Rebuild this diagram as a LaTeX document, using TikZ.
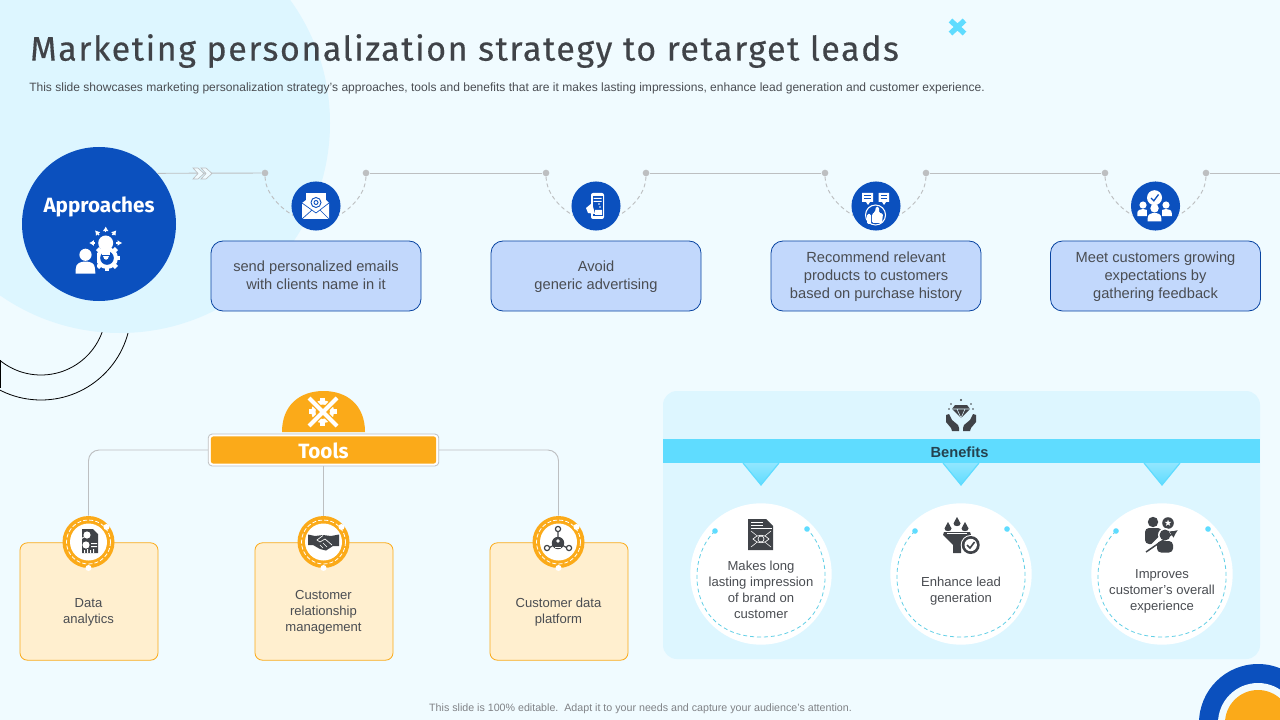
\documentclass[tikz,border=0pt]{standalone}
\usepackage{fontspec}
\usetikzlibrary{arrows.meta}
\setmainfont{Liberation Sans}
\newfontfamily\headFont[LetterSpace=4.6, FakeBold=.35]{Fira Sans}
\newfontfamily\labelFont{Fira Sans}
\definecolor{pageColor}{HTML}{F0FBFF}
\definecolor{paleCyan}{HTML}{DDF6FF}
\definecolor{brightCyan}{HTML}{5FDCFF}
\definecolor{dashCyan}{HTML}{62CFE6}
\definecolor{deepBlue}{HTML}{0B50BE}
\definecolor{boxBlue}{HTML}{C2D8FC}
\definecolor{amber}{HTML}{FBAA19}
\definecolor{paleAmber}{HTML}{FFEFCF}
\definecolor{routeGray}{HTML}{BDBFC1}
\definecolor{inkGray}{HTML}{404348}
\definecolor{bodyGray}{HTML}{4A4D52}
\definecolor{bandText}{HTML}{24424F}
\tikzstyle{slide} = [x=.75pt, y=-.75pt]
\tikzstyle{routeLine} = [color=routeGray, line width=.7pt]
\tikzstyle{dashArc} = [color=routeGray, line width=.7pt, dash pattern=on 3pt off 2.2pt]
\tikzstyle{routeDot} = [circle, fill=routeGray, inner sep=0, minimum size=5pt]
\tikzstyle{iconDisc} = [circle, fill=deepBlue, inner sep=0, minimum size=36.8pt]
\tikzstyle{strutText} = [execute at begin node=\strut, execute at end node=\strut]
\tikzstyle{approachBox} = [draw=deepBlue!85!black, fill=boxBlue, rounded corners=9pt, line width=.6pt, inner sep=0, minimum width=157.5pt, minimum height=52.5pt]
\tikzstyle{approachText} = [strutText, text=bodyGray, align=center, inner sep=0, font=\fontsize{11}{13.4}\selectfont]
\tikzstyle{toolCard} = [draw=amber, fill=paleAmber, rounded corners=5.5pt, line width=.6pt, inner sep=0, minimum width=103.5pt, minimum height=88pt]
\tikzstyle{toolRing} = [circle, fill=amber, inner sep=0, minimum size=39pt]
\tikzstyle{toolLine} = [color=routeGray, line width=.7pt, rounded corners=8pt]
\tikzstyle{smallText} = [strutText, text=bodyGray, align=center, inner sep=0, font=\fontsize{9.8}{12}\selectfont]
\tikzstyle{benefitDisc} = [circle, fill=white, inner sep=0, minimum size=106pt]
\tikzstyle{benefitDash} = [color=dashCyan, line width=.6pt, dash pattern=on 3pt off 2.2pt]
\newcommand{\gearShape}[5]{
  \begin{scope}[shift={(#1,#2)}]
    \foreach \toothAngle in {0,45,...,315} {
      \fill [#4, rotate=\toothAngle] (-#3*.2,-#3*1.22) rectangle (#3*.2,0);
    }
    \fill [#4] (0,0) circle [radius=#3];
    \fill [#5] (0,0) circle [radius=#3*.62];
  \end{scope}
}
\newcommand{\personShape}[4]{
  \begin{scope}[shift={(#1,#2)}, scale=#3]
    \fill [#4] (0,-5.5) circle [radius=5];
    \fill [#4] (-8,10) -- (-8,6) .. controls (-8,1.5) and (-4,0) .. (0,0) .. controls (4,0) and (8,1.5) .. (8,6) -- (8,10) -- cycle;
  \end{scope}
}
\newcommand{\ringMarks}[1]{
  \draw [white, line width=.6pt, dash pattern=on 3pt off 1.6pt] (#1,542) circle [radius=22];
  \fill [white] (#1,542) circle [radius=18.5];
  \fill [white] (#1,568) circle [radius=3];
  \fill [white] (#1+18,527) circle [radius=3];
}
\newcommand{\approachIcon}{
  \gearShape{107}{258}{11}{white}{deepBlue}
  \fill [white] (105.7,243) circle [radius=7.5];
  \fill [white] (102,248) rectangle (109.5,255);
  \fill [white] (103,256) .. controls (104,261) and (108,261) .. (109,256) -- cycle;
  \fill [deepBlue] (93,251) rectangle (97,275);
  \personShape{85.5}{261.5}{1.22}{white}
  \draw [deepBlue, line width=1pt] (94.5,262) -- (96.5,272.5);
  \foreach \arrowAngle in {0,50,90,130,180} {
    \draw [white, line width=1.1pt, -{Latex[length=3.5pt,width=4.5pt]}, shift={(105.7,243)}] ({cos(\arrowAngle)*10.5},{-sin(\arrowAngle)*10.5}) -- ({cos(\arrowAngle)*16.5},{-sin(\arrowAngle)*16.5});
  }
}
\newcommand{\mailIcon}{
  \fill [white] (306,193) rectangle (326,208);
  \fill [white] (302,203) -- (306,200) -- (326,200) -- (329,203) -- (329,219) -- (302,219) -- cycle;
  \draw [deepBlue, line width=.5pt] (302,203) -- (316,213) -- (329,203) (302,219) -- (312,210) (329,219) -- (320,210);
  \draw [deepBlue, line width=.7pt] (316,202.5) circle [radius=5] (316,202.5) circle [radius=2];
}
\newcommand{\phoneIcon}{
  \fill [white, rounded corners=1.5pt] (591,193) rectangle (604,219);
  \fill [deepBlue] (592.5,196) rectangle (602.5,216);
  \fill [white] (593.5,198) rectangle (601.5,199) (593.5,201) rectangle (601.5,202) (595,210) rectangle (602,215);
  \fill [white] (586,208) -- (592,203) -- (595,214) -- (588,213) -- cycle;
  \fill [white] (599,204) circle [radius=.8] (600,207) circle [radius=.8];
}
\newcommand{\thumbIcon}{
  \fill [white] (862,193) rectangle (873,202) (878.5,193) rectangle (889,202);
  \fill [white] (866,202) -- (870,202) -- (868,205) -- cycle (882,202) -- (886,202) -- (884,205) -- cycle;
  \draw [deepBlue, line width=.5pt] (864,195.5) -- (871,195.5) (864,198) -- (871,198) (880.5,195.5) -- (887,195.5) (880.5,198) -- (887,198);
  \draw [white, line width=.8pt] (875.5,215) circle [radius=10];
  \fill [white, rounded corners=1pt] (867,214) rectangle (871,224);
  \fill [white, rounded corners=1pt] (872,214) -- (875,212) -- (876,206.5) -- (879,207) -- (879,213) -- (883,213.5) -- (882,223) -- (872,223) -- cycle;
}
\newcommand{\crowdIcon}{
  \fill [white] (1154.5,197.7) circle [radius=7.5];
  \draw [deepBlue, line width=1pt] (1151,198) -- (1153.8,200.8) -- (1158.5,194.5);
  \personShape{1143}{209}{.72}{white}
  \personShape{1166}{209}{.72}{white}
  \fill [deepBlue] (1147,205) rectangle (1162,223);
  \personShape{1154.5}{213}{.85}{white}
}
\newcommand{\toolsIcon}{
  \gearShape{322.7}{411.7}{11.5}{white}{amber}
  \draw [amber, line width=5pt] (310,399) -- (336,425);
  \draw [amber, line width=5pt] (336,399) -- (310,425);
  \draw [white, line width=3pt] (309,398) -- (337,426);
  \draw [white, line width=3pt] (337,398) -- (309,426);
}
\newcommand{\dataIcon}{
  \fill [inkGray] (82,529) -- (93,529) -- (98,534) -- (98,553) -- (82,553) -- cycle;
  \fill [white] (87,535) circle [radius=3.6];
  \draw [white, line width=.7pt] (81,539) -- (84,537);
  \fill [white] (86,545) circle [radius=3.6];
  \fill [white] (91,543) rectangle (97,544) (91,546) rectangle (97,547);
  \fill [white] (84,550) rectangle (85,553) (87,549) rectangle (88,553) (90,550) rectangle (91,553) (93,549) rectangle (94,553);
}
\newcommand{\shakeIcon}{
  \fill [inkGray] (308,534.5) -- (315,536) -- (323,535) -- (331,536) -- (339,534.5) -- (339,546) -- (333,546) -- (326,550.5) -- (320,549) -- (313,545) -- (308,545) -- cycle;
  \draw [white, line width=.5pt] (323,535.5) -- (317,540) -- (320,542) -- (325,539) -- (332,545) (320,545) -- (323,548) (323,543) -- (327,547);
}
\newcommand{\networkIcon}{
  \draw [inkGray, line width=.9pt] (558,532) -- (558,543) -- (549.5,547.5) (558,543) -- (566.5,547.5);
  \fill [inkGray] (558,543) circle [radius=6.2];
  \fill [white] (558,541) circle [radius=1.8];
  \fill [white] (555,546.5) rectangle (561,548);
  \draw [inkGray, line width=.9pt] (558,529) circle [radius=2.6] (547,548) circle [radius=2.6] (569,548) circle [radius=2.6];
}
\newcommand{\diamondIcon}{
  \fill [inkGray] (955,405) -- (967,405) -- (970,409) -- (961,418) -- (952,409) -- cycle;
  \draw [paleCyan, line width=.4pt] (952,409) -- (970,409) (957,409) -- (961,418) -- (965,409);
  \fill [inkGray] (961,400) circle [radius=1.2] (951,404) circle [radius=.9] (971,404) circle [radius=.9] (949,409) circle [radius=.9] (973,409) circle [radius=.9];
  \fill [inkGray] (946,415) -- (949,414) -- (952,420) -- (958,425) -- (959,428) -- (959,431) -- (952,431) -- (951,428) -- (946,422) -- cycle;
  \fill [inkGray] (976,415) -- (973,414) -- (970,420) -- (964,425) -- (963,428) -- (963,431) -- (970,431) -- (971,428) -- (976,422) -- cycle;
}
\newcommand{\eyeDocIcon}{
  \fill [inkGray] (748,519) -- (766,519) -- (773,526) -- (773,550) -- (748,550) -- cycle;
  \draw [white, line width=.6pt] (751,522) -- (763,522) (751,525) -- (763,525) (751,528) -- (772,528);
  \draw [white, line width=.4pt] (751,531) -- (771,547) (771,531) -- (751,547);
  \fill [inkGray] (753,539) .. controls (757,534) and (765,534) .. (769,539) .. controls (765,544) and (757,544) .. (753,539) -- cycle;
  \draw [white, line width=.5pt] (753,539) .. controls (757,534) and (765,534) .. (769,539) .. controls (765,544) and (757,544) .. (753,539) -- cycle;
  \draw [white, line width=.5pt] (761,539) circle [radius=3];
}
\newcommand{\funnelIcon}{
  \fill [inkGray] (944,532) -- (970,532) -- (971,535) -- (961,545) -- (961,553) -- (953,553) -- (953,545) -- (943,535) -- cycle;
  \fill [white] (947,532.5) rectangle (967,533.2);
  \foreach \dropX/\dropY in {957/522, 948/527, 965/527} {
    \fill [inkGray] (\dropX,\dropY-5) .. controls (\dropX+1,\dropY-2) and (\dropX+3.5,\dropY) .. (\dropX+3.5,\dropY+1.5) .. controls (\dropX+3.5,\dropY+5) and (\dropX-3.5,\dropY+5) .. (\dropX-3.5,\dropY+1.5) .. controls (\dropX-3.5,\dropY) and (\dropX-1,\dropY-2) .. (\dropX,\dropY-5) -- cycle;
  }
  \fill [white] (970.7,545) circle [radius=10];
  \fill [inkGray] (970.7,545) circle [radius=9];
  \fill [white] (970.7,545) circle [radius=6.2];
  \draw [inkGray, line width=1.2pt] (967,545) -- (970,548) -- (974.5,542);
}
\newcommand{\climbIcon}{
  \fill [inkGray] (1153,522) circle [radius=5.2];
  \fill [inkGray, rounded corners=3pt] (1145,544) -- (1145,528) -- (1162,528) -- (1162,544) -- cycle;
  \fill [inkGray] (1168,523) circle [radius=5.8];
  \fill [white] (1168,519.5) -- (1168.8,521.9) -- (1171.3,521.9) -- (1169.3,523.4) -- (1170.1,525.8) -- (1168,524.4) -- (1165.9,525.8) -- (1166.7,523.4) -- (1164.7,521.9) -- (1167.2,521.9) -- cycle;
  \fill [white] (1165,535) circle [radius=7];
  \fill [white, rounded corners=3pt] (1155.5,553) -- (1155.5,539.5) -- (1174.5,539.5) -- (1174.5,553) -- cycle;
  \fill [inkGray] (1165,535) circle [radius=5.5];
  \fill [inkGray, rounded corners=3pt] (1157,552.5) -- (1157,541) -- (1173,541) -- (1173,552.5) -- cycle;
  \draw [white, line width=2.6pt] (1146,552) -- (1160,538);
  \draw [inkGray, line width=1.1pt, -{Latex[length=6pt,width=6pt]}] (1146,552) -- (1178,530);
}
\begin{document}
\begin{tikzpicture}[slide]
  \clip (0,0) rectangle (1280,720);
  \fill [pageColor] (0,0) rectangle (1280,720);
  % corner arcs and pale disc
  \draw [black, line width=.6pt] (41,310) circle [radius=65] (41,310) circle [radius=90];
  \draw [black, line width=.8pt] (.4,360) -- (.4,388);
  \fill [paleCyan] (120,123) circle [radius=210];
  % heading
  \node (slideTitle) [anchor=west, inner sep=0, text=inkGray, font=\headFont\fontsize{25.5}{30}\selectfont] at (30,51) {Marketing personalization strategy to retarget leads};
  \node (slideSubtitle) [anchor=west, inner sep=0, text=bodyGray, font=\fontsize{9.03}{11}\selectfont] at (29,88) {This slide showcases marketing personalization strategy's approaches, tools and benefits that are it makes lasting impressions, enhance lead generation and customer experience.};
  \draw [brightCyan, line width=4pt] (950.5,20.5) -- (964.5,33.5) (964.5,20.5) -- (950.5,33.5);
  % approaches row
  \node (approachCircle) [circle, fill=deepBlue, inner sep=0, minimum size=115.5pt] at (99,224) {};
  \node (approachLabel) [inner sep=0, text=white, font=\labelFont\bfseries\fontsize{15.5}{18}\selectfont] at (99,207) {Approaches};
  \approachIcon
  \foreach \col/\boxX/\leftX/\rightX/\boxText in {
    A/316/265/366/{send personalized emails\\with clients name in it},
    B/596/546/646/{Avoid\\generic advertising},
    C/876/825/926/{Recommend relevant\\products to customers\\based on purchase history},
    D/1155.5/1105/1206/{Meet customers growing\\expectations by\\gathering feedback}} {
    \node (dotLeft\col) [routeDot] at (\leftX,173) {};
    \node (dotRight\col) [routeDot] at (\rightX,173) {};
    \node (disc\col) [iconDisc] at (\boxX,206) {};
    \node (box\col) [approachBox] at (\boxX,276) {};
    \node (boxText\col) [approachText] at (\boxX,278) {\boxText};
    \draw [dashArc] (dotLeft\col) .. controls +(0,18) and +(-15.5,-9) .. (disc\col.202);
    \draw [dashArc] (dotRight\col) .. controls +(0,18) and +(15.5,-9) .. (disc\col.338);
  }
  \coordinate (routeEnd) at (1280,173);
  \draw [routeLine] (approachCircle.41.5) -- (dotLeftA);
  \draw [routeLine] (dotRightA) -- (dotLeftB);
  \draw [routeLine] (dotRightB) -- (dotLeftC);
  \draw [routeLine] (dotRightC) -- (dotLeftD);
  \draw [routeLine] (dotRightD) -- (routeEnd);
  \foreach \chevronX in {193,201} {
    \filldraw [draw=routeGray, fill=pageColor, line width=.5pt] (\chevronX,168) -- (\chevronX+5,168) -- (\chevronX+11,173.5) -- (\chevronX+5,179) -- (\chevronX,179) -- (\chevronX+5,173.5) -- cycle;
  }
  \mailIcon
  \phoneIcon
  \thumbIcon
  \crowdIcon
  % tools
  \fill [amber] (282,432) .. controls (282,405) and (300,391) .. (323.5,391) .. controls (347,391) and (365,405) .. (365,432) -- cycle;
  \toolsIcon
  \node (toolsFrame) [draw=routeGray, fill=white, rounded corners=3pt, line width=.6pt, inner sep=0, minimum width=173pt, minimum height=24pt] at (323.5,450) {};
  \node (toolsBar) [fill=amber, rounded corners=2pt, inner sep=0, minimum width=169pt, minimum height=20.5pt] at (323.5,450) {};
  \node (toolsLabel) [inner sep=0, text=white, font=\labelFont\bfseries\fontsize{15.5}{18}\selectfont] at (323.5,451) {Tools};
  \foreach \col/\cardX/\cardText in {
    A/89/{Data\\analytics},
    B/324/{Customer\\relationship\\management},
    C/559/{Customer data\\platform}} {
    \node (card\col) [toolCard] at (\cardX,601.5) {};
    \node (cardText\col) [smallText] at (\cardX-.5,613) {\cardText};
    \node (ring\col) [toolRing] at (\cardX-.5,542) {};
    \ringMarks{\cardX-.5}
  }
  \draw [toolLine] (toolsFrame.west) -| (ringA);
  \draw [toolLine] (toolsFrame.south) -- (ringB);
  \draw [toolLine] (toolsFrame.east) -| (ringC);
  \dataIcon
  \shakeIcon
  \networkIcon
  % benefits
  \node (benefitPanel) [fill=paleCyan, rounded corners=10.5pt, inner sep=0, minimum width=447.75pt, minimum height=201pt] at (961.5,525) {};
  \diamondIcon
  \node (benefitBand) [fill=brightCyan, inner sep=0, minimum width=447.75pt, minimum height=18pt] at (961.5,451) {};
  \node (benefitLabel) [inner sep=0, text=bandText, font=\bfseries\fontsize{11}{13}\selectfont] at (959.5,452.5) {Benefits};
  \foreach \col/\discX/\benefitText in {
    A/761/{Makes long\\lasting impression\\of brand on\\customer},
    B/961/{Enhance lead\\generation},
    C/1162/{Improves\\customer's overall\\experience}} {
    \shade [top color=brightCyan!60!paleCyan, middle color=paleCyan, bottom color=brightCyan] (\discX-18,463) -- (\discX+18,463) -- (\discX,485) -- cycle;
    \draw [brightCyan, line width=.9pt] (\discX-18,463) -- (\discX,485) -- (\discX+18,463);
    \node (benefitDisc\col) [benefitDisc] at (\discX,574) {};
    \draw [benefitDash] (\discX-46,531) .. controls (\discX-77,560) and (\discX-72,637) .. (\discX,637) .. controls (\discX+72,637) and (\discX+77,560) .. (\discX+46,529);
    \fill [brightCyan] (\discX-46,531) circle [radius=2.8] (\discX+46,529) circle [radius=2.8];
    \node (benefitText\col) [smallText] at (\discX,592) {\benefitText};
  }
  \eyeDocIcon
  \funnelIcon
  \climbIcon
  % footer
  \node (footerNote) [inner sep=0, text=bodyGray!70, font=\fontsize{8}{10}\selectfont] at (640.5,709) {This slide is 100\% editable.\ \ Adapt it to your needs and capture your audience's attention.};
  \fill [deepBlue] (1258,723) circle [radius=59];
  \fill [pageColor] (1258,723) circle [radius=40];
  \fill [amber] (1258,723) circle [radius=33];
\end{tikzpicture}
\end{document}
